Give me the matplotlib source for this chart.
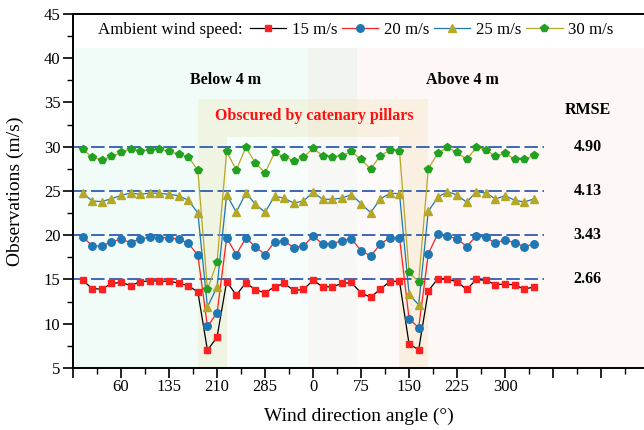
import matplotlib
matplotlib.use("Agg")
import matplotlib.pyplot as plt
from matplotlib.patches import Rectangle
from matplotlib.ticker import FixedLocator

plt.rcParams['font.family'] = ['Liberation Serif', 'DejaVu Serif']

# wind direction categories: two sweeps (below / above 4 m), 15° step
angles_below = [0, 15, 30, 45, 60, 75, 90, 105, 120, 135, 150, 165,
                180, 195, 210, 225, 240, 255, 270, 285, 300, 315, 330, 345]
angles_above = [0, 15, 30, 45, 60, 75, 90, 105, 120, 135, 150, 165,
                180, 195, 210, 225, 240, 255, 270, 285, 300, 315, 330, 345]

obs_15 = [14.89, 13.98, 13.90, 14.55, 14.66, 14.32, 14.74, 14.85, 14.81, 14.81, 14.59, 14.29,
          13.60, 7.00, 8.50, 14.77, 13.23, 14.62, 13.83, 13.50, 14.17, 14.55, 13.76, 13.87,
          14.92, 14.17, 14.17, 14.55, 14.66, 13.46, 13.00, 13.90, 14.77, 14.81, 7.70, 7.07,
          13.70, 15.10, 15.04, 14.74, 13.87, 15.00, 14.89, 14.43, 14.47, 14.40, 13.90, 14.17]
obs_20 = [19.80, 18.83, 18.76, 19.28, 19.55, 19.17, 19.62, 19.77, 19.74, 19.70, 19.55, 19.10,
          17.74, 9.70, 11.22, 19.70, 17.82, 19.70, 18.68, 17.82, 19.28, 19.36, 18.60, 18.80,
          19.89, 19.02, 19.06, 19.36, 19.62, 18.23, 17.66, 18.98, 19.74, 19.74, 10.55, 9.56,
          17.90, 20.19, 19.92, 19.59, 18.72, 19.92, 19.77, 19.10, 19.51, 19.13, 18.72, 19.02]
obs_25 = [24.77, 23.87, 23.80, 24.13, 24.50, 24.77, 24.62, 24.77, 24.74, 24.62, 24.47, 23.95,
          22.53, 11.90, 14.15, 24.60, 22.60, 24.77, 23.50, 22.60, 24.43, 24.17, 23.64, 23.87,
          24.85, 24.06, 24.06, 24.20, 24.59, 23.57, 22.55, 24.10, 24.74, 24.70, 13.33, 12.13,
          22.70, 24.32, 24.92, 24.55, 23.72, 24.92, 24.77, 24.10, 24.47, 23.95, 23.76, 24.10]
obs_30 = [29.74, 28.80, 28.53, 28.90, 29.36, 29.74, 29.47, 29.66, 29.70, 29.47, 29.13, 28.87,
          27.35, 13.90, 16.95, 29.47, 27.36, 29.92, 28.15, 27.06, 29.36, 28.87, 28.42, 28.80,
          29.85, 28.98, 28.87, 28.98, 29.47, 28.57, 27.48, 28.98, 29.62, 29.57, 15.80, 14.75,
          27.50, 29.28, 29.92, 29.36, 28.57, 29.92, 29.66, 28.90, 29.28, 28.60, 28.57, 29.02]

speeds = ['15 m/s', '20 m/s', '25 m/s', '30 m/s']
reference_levels = [15, 20, 25, 30]
rmse = ['2.66', '3.43', '4.13', '4.90']

tick_pos = [-15, 60, 135, 210, 285, 360, 435, 510, 585, 660, 735, 810]
tick_labels = ['', '60', '135', '210', '285', '0', '75', '150', '225', '300', '', '']

# continuous x: second sweep continues after 360
x = angles_below + [a + 360 for a in angles_above]

fig = plt.figure(figsize=(6.44, 4.30), dpi=100)
ax = fig.add_axes([0.1134, 0.1442, 0.8866, 0.8233])
ax.set_xlim(-15, 877)
ax.set_ylim(5, 45)

# background zones
ax.add_patch(Rectangle((-12, 5), 440, 36.2, facecolor='#d0f5e6', alpha=0.28, lw=0, zorder=0))
ax.add_patch(Rectangle((352, 5), 530, 36.2, facecolor='#f7d4cf', alpha=0.18, lw=0, zorder=0))
# catenary pillar zones
ax.add_patch(Rectangle((180, 5), 45, 26.1, facecolor='#f0d890', alpha=0.2, lw=0, zorder=0.5))
ax.add_patch(Rectangle((495, 5), 45, 26.1, facecolor='#f0d890', alpha=0.2, lw=0, zorder=0.5))
ax.add_patch(Rectangle((180, 31.1), 360, 4.3, facecolor='#f0d890', alpha=0.2, lw=0, zorder=0.5))
ax.add_patch(Rectangle((225, 5), 270, 26.1, facecolor='white', alpha=0.4, lw=0, zorder=0.5))

for lvl in reference_levels:
    ax.plot([-15, 720], [lvl, lvl], color='#2f5cb0', lw=1.3, ls=(0, (7.5, 2.5)), zorder=1)

styles = [
    (obs_15, 'black', 's', '#ff2020', 4.8),
    (obs_20, '#ff2020', 'o', '#1f77b4', 5.4),
    (obs_25, '#1f77b4', '^', '#b5a828', 6.0),
    (obs_30, '#b5a828', 'p', '#22a022', 6.0),
]
handles = []
for (vals, lc, mk, mc, ms), lab in zip(styles, speeds):
    h, = ax.plot(x, vals, color=lc, lw=0.9, marker=mk, markersize=ms,
                 markerfacecolor=mc, markeredgecolor=mc, zorder=3, label=lab)
    handles.append(h)

fig.text(98 / 644, 1 - 30 / 430, 'Ambient wind speed:', fontsize=12.2, va='center', ha='left')
fig.legend(handles=handles, labels=speeds, loc='center left', ncol=4, frameon=False,
           bbox_to_anchor=(250 / 644, 1 - 30 / 430), fontsize=12.1, numpoints=1,
           handlelength=2.15, handletextpad=0.35, columnspacing=0.28, borderpad=0, borderaxespad=0)

bold = dict(fontweight='bold', fontsize=11.5, ha='center', va='center')
ax.text(223, 37.5, 'Below 4 m', **bold)
ax.text(593, 37.5, 'Above 4 m', **bold)
ax.text(362, 33.5, 'Obscured by catenary pillars', color='#ff1010', **bold)
ax.text(789, 34.2, 'RMSE', **bold)
for lvl, r in zip(reference_levels, rmse):
    ax.text(789, lvl, r, **bold)

ax.xaxis.set_major_locator(FixedLocator(tick_pos))
ax.set_xticklabels(tick_labels)
ax.xaxis.set_minor_locator(FixedLocator([p + 37.5 for p in tick_pos]))
ax.set_yticks(range(5, 46, 5))
ax.yaxis.set_minor_locator(FixedLocator([v + 2.5 for v in range(5, 45, 5)]))
ax.tick_params(which='major', direction='out', length=7, width=1.2, labelsize=12)
ax.tick_params(axis='x', which='major', pad=1)
ax.tick_params(axis='y', which='major', pad=2)
ax.tick_params(which='minor', direction='out', length=4, width=1.0)
for s in ['left', 'bottom', 'top']:
    ax.spines[s].set_linewidth(1.4)
ax.spines['right'].set_visible(False)

ax.set_xlabel('Wind direction angle (°)', fontsize=14, labelpad=9)
ax.set_ylabel('Observations (m/s)', fontsize=14, labelpad=14)

fig.savefig('out.png', dpi=100)
